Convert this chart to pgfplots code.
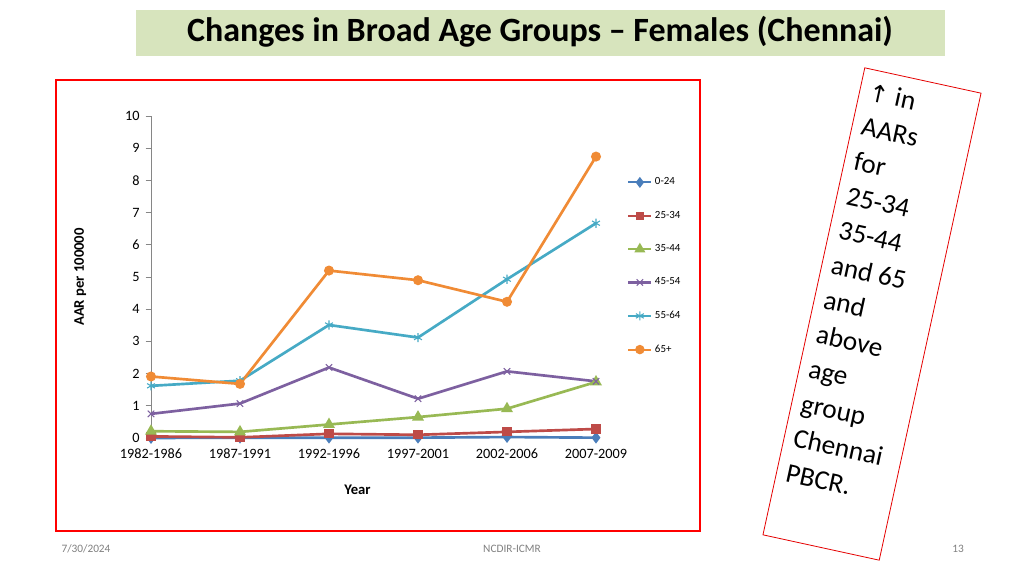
\documentclass[border=0pt]{standalone}
\usepackage{pgfplots}
\pgfplotsset{compat=1.18}
\usepackage{fontspec}
\setmainfont{Carlito}
\newfontfamily\djv{DejaVu Sans}
\definecolor{s1}{HTML}{4A7EBB}
\definecolor{s2}{HTML}{BE4B48}
\definecolor{s3}{HTML}{98B954}
\definecolor{s4}{HTML}{7D60A0}
\definecolor{s5}{HTML}{46AAC5}
\definecolor{s6}{HTML}{F08B35}
\definecolor{banner}{HTML}{D7E4BD}
\definecolor{axgray}{HTML}{868686}
\begin{document}
\begin{tikzpicture}[x=0.75pt,y=0.75pt]
\useasboundingbox[fill=white] (0,0) rectangle (1024,576);
% title banner
\path[fill=banner] (136,576-10) rectangle (945,576-56);
\node[font=\fontsize{25.5}{30}\selectfont\bfseries] at (540,576-32) {Changes in Broad Age Groups – Females (Chennai)};
% red frame
\draw[red, line width=2.2pt] (56,576-80) rectangle (700,576-531);
% footer
\node[font=\fontsize{8.5}{10}\selectfont, text=gray] at (86,576-549) {7/30/2024};
\node[font=\fontsize{8.5}{10}\selectfont, text=gray] at (512,576-549) {NCDIR-ICMR};
\node[font=\fontsize{8.5}{10}\selectfont, text=gray] at (958,576-549) {13};
% rotated box
\begin{scope}[shift={(872,576-314)}, rotate=-12.3]
\draw[red!90!black, line width=0.6pt] (-59.5,-239) rectangle (59.5,239);
\node[transform shape, anchor=north west, align=left, font=\fontsize{20.5}{26.6}\selectfont, inner sep=0pt] at (-50,227) {{\djv\fontsize{18}{26.6}\selectfont ↑} in\\AARs\\for\\25-34\\35-44\\and 65\\and\\above\\age\\group\\Chennai\\PBCR.};
\end{scope}
\begin{axis}[
  at={(113.25pt,103.5pt)}, anchor=south west,
  scale only axis,
  width=333.75pt, height=241.5pt,
  xmin=0, xmax=5, ymin=0, ymax=10,
  axis x line=none,
  axis y line*=left,
  y axis line style={draw=axgray, line width=0.6pt, -},
  ytick={0,1,...,10},
  ytick style={draw=axgray, line width=0.6pt},
  tick align=outside,
  major tick length=4pt,
  xtick=\empty,
  /pgf/number format/assume math mode=true,
  tick label style={font=\fontsize{10.7}{12}\selectfont},
  yticklabel style={xshift=-1pt},
  ylabel={\bfseries AAR per 100000},
  ylabel style={font=\fontsize{11}{13}\selectfont, at={(axis description cs:-0.135,0.5)}},
  clip=false,
  legend style={at={(1.07,0.817)}, anchor=north west, draw=none, fill=none,
    font=\fontsize{8.2}{9}\selectfont, row sep=14.2pt, inner sep=0pt,
    /tikz/every even column/.append style={column sep=1pt}},
  legend cell align=left,
  legend image post style={line width=1.6pt},
  every axis plot/.append style={line width=2pt},
]
\addplot[s1, mark=diamond*, mark size=2.8pt] coordinates {(0,0.0) (1,0.01) (2,0.01) (3,0.01) (4,0.03) (5,0.01)};
\addplot[s2, mark=square*, mark size=2.4pt] coordinates {(0,0.05) (1,0.02) (2,0.13) (3,0.10) (4,0.19) (5,0.28)};
\addplot[s3, mark=triangle*, mark size=3.2pt] coordinates {(0,0.21) (1,0.19) (2,0.42) (3,0.65) (4,0.91) (5,1.74)};
\addplot[s4, mark=x, mark size=3.4pt, mark options={line width=0.8pt}] coordinates {(0,0.75) (1,1.07) (2,2.19) (3,1.22) (4,2.07) (5,1.76)};
\addplot[s5, mark=asterisk, mark size=3.4pt, mark options={line width=0.8pt}] coordinates {(0,1.62) (1,1.78) (2,3.51) (3,3.12) (4,4.93) (5,6.67)};
\addplot[s6, mark=*, mark size=2.7pt] coordinates {(0,1.91) (1,1.68) (2,5.20) (3,4.90) (4,4.23) (5,8.74)};
\legend{0-24,25-34,35-44,45-54,55-64,65+}
\foreach \i/\lab in {0/1982-1986,1/1987-1991,2/1992-1996,3/1997-2001,4/2002-2006,5/2007-2009}{
  \edef\tmp{\noexpand\node[font=\noexpand\fontsize{10.7}{12}\noexpand\selectfont, anchor=base, inner sep=0pt] at (axis cs:\i,0) [yshift=-15pt] {\lab};}
  \tmp
}
\node[font=\fontsize{11}{13}\selectfont\bfseries] at (axis cs:2.32,0) [yshift=-39pt] {Year};
\end{axis}
\end{tikzpicture}
\end{document}
